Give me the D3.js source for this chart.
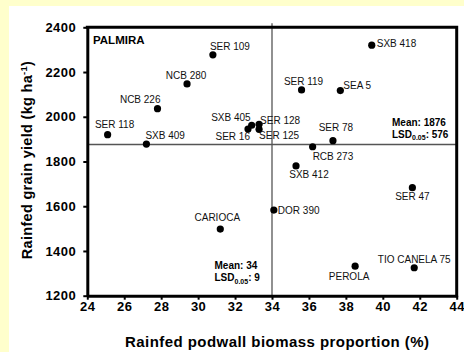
<!DOCTYPE html>
<html>
<head>
<meta charset="utf-8">
<script src="https://cdn.jsdelivr.net/npm/d3@7"></script>
<style>
  html, body { margin: 0; padding: 0; background: #ffffcc; }
  svg { display: block; }
  text { font-family: Arial, "Liberation Sans", sans-serif; }
</style>
</head>
<body>
<div id="chart"></div>
<script>
// Data
const genotypes = ["SER 118", "SXB 409", "NCB 226", "NCB 280", "SER 109", "SXB 405", "SER 16", "SER 128", "SER 125",
  "SER 119", "SEA 5", "SXB 418", "SER 78", "RCB 273", "SXB 412", "CARIOCA", "DOR 390", "SER 47", "PEROLA", "TIO CANELA 75"];
const podwall = [25.1, 27.2, 27.8, 29.4, 30.8, 32.9, 32.7, 33.3, 33.3, 35.6, 37.7, 39.4, 37.3, 36.2, 35.3, 31.2, 34.1, 41.6, 38.5, 41.7];
const grainYield = [1920, 1878, 2036, 2147, 2277, 1962, 1945, 1966, 1944, 2120, 2117, 2320, 1893, 1866, 1780, 1498, 1583, 1683, 1332, 1325];
const xTicks = [24, 26, 28, 30, 32, 34, 36, 38, 40, 42, 44];
const yTicks = [1200, 1400, 1600, 1800, 2000, 2200, 2400];
const meanX = 34, lsdX = 9;
const meanY = 1876, lsdY = 576;

// label placement around each dot: [dx, dy, anchor]
const labelPos = {
  "SER 118": [7, -7, "middle"], "SXB 409": [-1, -5, "start"], "NCB 226": [3, -6, "end"],
  "NCB 280": [-1, -5, "middle"], "SER 109": [-3, -5, "start"], "SXB 405": [-1, -4, "end"],
  "SER 16": [2, 11, "end"], "SER 128": [1, 0, "start"], "SER 125": [0, 10, "start"],
  "SER 119": [2, -5, "middle"], "SEA 5": [3, -2, "start"], "SXB 418": [5, 2, "start"],
  "SER 78": [3, -10, "middle"], "RCB 273": [0, 13, "start"], "SXB 412": [13, 12, "middle"],
  "CARIOCA": [-3, -8, "middle"], "DOR 390": [4, 4, "start"], "SER 47": [0, 12, "middle"],
  "PEROLA": [-6, 14, "middle"], "TIO CANELA 75": [0, -5, "middle"]
};

const dataset = genotypes.map((name, i) => ({ name, x: podwall[i], y: grainYield[i] }));

// Dimensions
const width = 464, height = 352;
const plot = { left: 87.3, right: 456.7, top: 27.3, bottom: 295.7 };

const svg = d3.select("#chart").append("svg").attr("width", width).attr("height", height);

// white panel
svg.append("rect").attr("x", 9).attr("y", 6).attr("width", width - 9).attr("height", height - 6).attr("fill", "#fff");

// Scales
const xScale = d3.scaleLinear().domain([24, 44]).range([plot.left, plot.right]);
const yScale = d3.scaleLinear().domain([1200, 2400]).range([plot.bottom, plot.top]);

// Mean lines
svg.append("line")
  .attr("x1", xScale(meanX)).attr("x2", xScale(meanX))
  .attr("y1", plot.top - 4).attr("y2", plot.bottom)
  .attr("stroke", "#555").attr("stroke-width", 1.3);
svg.append("line")
  .attr("x1", plot.left).attr("x2", plot.right)
  .attr("y1", yScale(meanY)).attr("y2", yScale(meanY))
  .attr("stroke", "#555").attr("stroke-width", 1.3);

// Axes
const xAxis = d3.axisBottom(xScale).tickValues(xTicks).tickSize(4).tickSizeOuter(0).tickPadding(2);
const yAxis = d3.axisLeft(yScale).tickValues(yTicks).tickFormat(d3.format("d")).tickSize(4).tickSizeOuter(0).tickPadding(7);

const gx = svg.append("g").attr("transform", `translate(0, ${plot.bottom})`).call(xAxis);
const gy = svg.append("g").attr("transform", `translate(${plot.left}, 0)`).call(yAxis);

[gx, gy].forEach((g) => {
  g.select(".domain").attr("stroke", "#000").attr("stroke-width", 3);
  g.selectAll(".tick line").attr("stroke", "#000").attr("stroke-width", 2);
  g.selectAll(".tick text").attr("fill", "#000").style("font-size", "13px").style("font-weight", "bold")
    .style("letter-spacing", "0.5px")
    .style("font-family", "Arial, 'Liberation Sans', sans-serif");
});

// top and right frame
svg.append("path")
  .attr("d", `M${plot.left - 1.5},${plot.top}H${plot.right}V${plot.bottom + 1.5}`)
  .attr("fill", "none").attr("stroke", "#000").attr("stroke-width", 3);

// Points
svg.append("g").selectAll("circle").data(dataset).join("circle")
  .attr("cx", (d) => xScale(d.x))
  .attr("cy", (d) => yScale(d.y))
  .attr("r", 3.6)
  .attr("fill", "#000");

svg.append("g").selectAll("text").data(dataset).join("text")
  .attr("x", (d) => xScale(d.x) + labelPos[d.name][0])
  .attr("y", (d) => yScale(d.y) + labelPos[d.name][1])
  .attr("text-anchor", (d) => labelPos[d.name][2])
  .style("font-size", "10px")
  .attr("fill", "#111")
  .text((d) => d.name);

// Annotations
svg.append("text").attr("x", 93).attr("y", 43.5)
  .style("font-size", "11.5px").style("font-weight", "bold").text("PALMIRA");

function meanBlock(x, y, mean, lsd) {
  const t = svg.append("g").style("font-size", "10px").style("font-weight", "bold");
  t.append("text").attr("x", x).attr("y", y).text(`Mean: ${mean}`);
  const l = t.append("text").attr("x", x).attr("y", y + 12);
  l.append("tspan").text("LSD");
  l.append("tspan").attr("dy", 2.5).style("font-size", "7px").text("0.05");
  l.append("tspan").attr("dy", -2.5).text(`: ${lsd}`);
}
meanBlock(392, 125.5, meanY, lsdY);
meanBlock(214.5, 269, meanX, lsdX);

// Axis titles
svg.append("text")
  .attr("x", 277).attr("y", 346.5)
  .attr("text-anchor", "middle")
  .attr("textLength", 304).attr("lengthAdjust", "spacing")
  .style("font-size", "15px").style("font-weight", "bold")
  .text("Rainfed podwall biomass proportion (%)");

const yTitle = svg.append("text")
  .attr("transform", "translate(31.5, 160) rotate(-90)")
  .attr("text-anchor", "middle")
  .style("font-size", "14.5px").style("font-weight", "bold").style("letter-spacing", "0.3px");
yTitle.append("tspan").text("Rainfed grain yield (kg ha");
yTitle.append("tspan").attr("dy", -5).style("font-size", "9.5px").text("-1");
yTitle.append("tspan").attr("dy", 5).text(")");
</script>
</body>
</html>
